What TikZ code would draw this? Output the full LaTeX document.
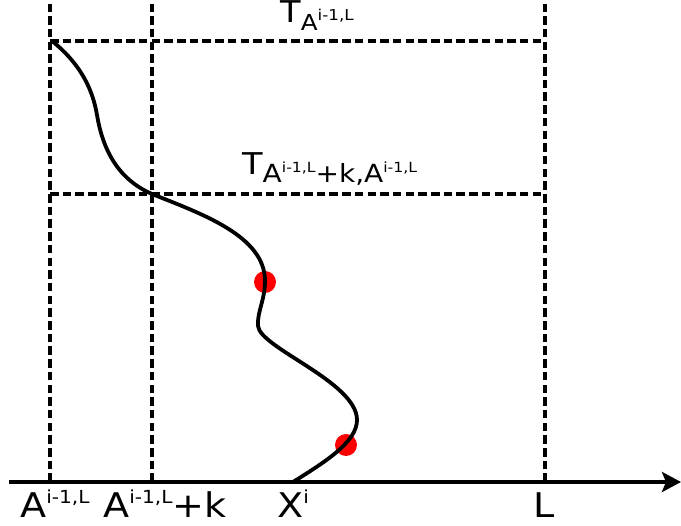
\documentclass[tikz,border=0pt]{standalone}
\usepackage{fontspec}
\setmainfont{DejaVu Sans}
\usetikzlibrary{arrows.meta}
\newcommand{\fsz}[1]{\fontsize{#1}{#1}\selectfont}

\begin{document}
\begin{tikzpicture}[x=1pt, y=-1pt,
    guide/.style={line width=4.5pt, dash pattern=on 8.5pt off 4.2pt},
    lbl/.style={anchor=base west, inner sep=0pt, xscale=1.12},
    dot/.style={circle, fill=red, inner sep=0pt, minimum size=22pt}]
    \useasboundingbox (0,0) rectangle (681,526);

    % Coordinates
    \coordinate (o) at (9,482);
    \coordinate (tip) at (681,482);
    \coordinate (a0) at (50,482);   \coordinate (a0top) at (50,0);
    \coordinate (a1) at (152,482);  \coordinate (a1top) at (152,0);
    \coordinate (l) at (545,482);   \coordinate (ltop) at (545,0);
    \coordinate (h0) at (50,41);    \coordinate (h0end) at (545,41);
    \coordinate (h1) at (50,194);   \coordinate (h1end) at (545,194);

    % Dashed guides
    \draw[guide] (a0) -- (a0top);
    \draw[guide] (a1) -- (a1top);
    \draw[guide] (l) -- (ltop);
    \draw[guide] (h0) -- (h0end);
    \draw[guide] (h1) -- (h1end);

    % Axis
    \draw[line width=4.6pt, -{Stealth[length=19pt, width=20pt, inset=4pt]}] (o) -- (tip);

    % Marked points
    \node[dot] (p1) at (265,282) {};
    \node[dot] (p2) at (346,445) {};

    % Curve
    \draw[line width=3.8pt] (52,41) .. controls (77,61) and (92,85) .. (97,115)
        .. controls (102,145) and (115,178) .. (152,194)
        .. controls (202,214) and (265,236) .. (265,281)
        .. controls (265,300) and (257,312) .. (258,326)
        .. controls (260,348) and (357,382) .. (357,420)
        .. controls (357,442) and (325,462) .. (293,482);

    % Labels
    \node[lbl] (tTop) at (280,23) {\fsz{30}T\raisebox{-8pt}{\fsz{22}A}\raisebox{2pt}{\fsz{15}i-1,L}};
    \node[lbl] (tMid) at (242,175) {\fsz{30}T\raisebox{-8pt}{\fsz{25}A}\raisebox{2pt}{\fsz{14}i-1,L}%
        \raisebox{-8pt}{\fsz{25}+k,A}\raisebox{2pt}{\fsz{14}i-1,L}};
    \node[lbl] (xA) at (20,518) {\fsz{34}A\raisebox{14pt}{\fsz{18}i-1,L}};
    \node[lbl] (xAk) at (103,518) {\fsz{34}A\raisebox{14pt}{\fsz{18}i-1,L}+k};
    \node[lbl] (xX) at (277,518) {\fsz{34}X\raisebox{14pt}{\fsz{18}i}};
    \node[lbl] (xL) at (533,518) {\fsz{34}L};
\end{tikzpicture}
\end{document}
